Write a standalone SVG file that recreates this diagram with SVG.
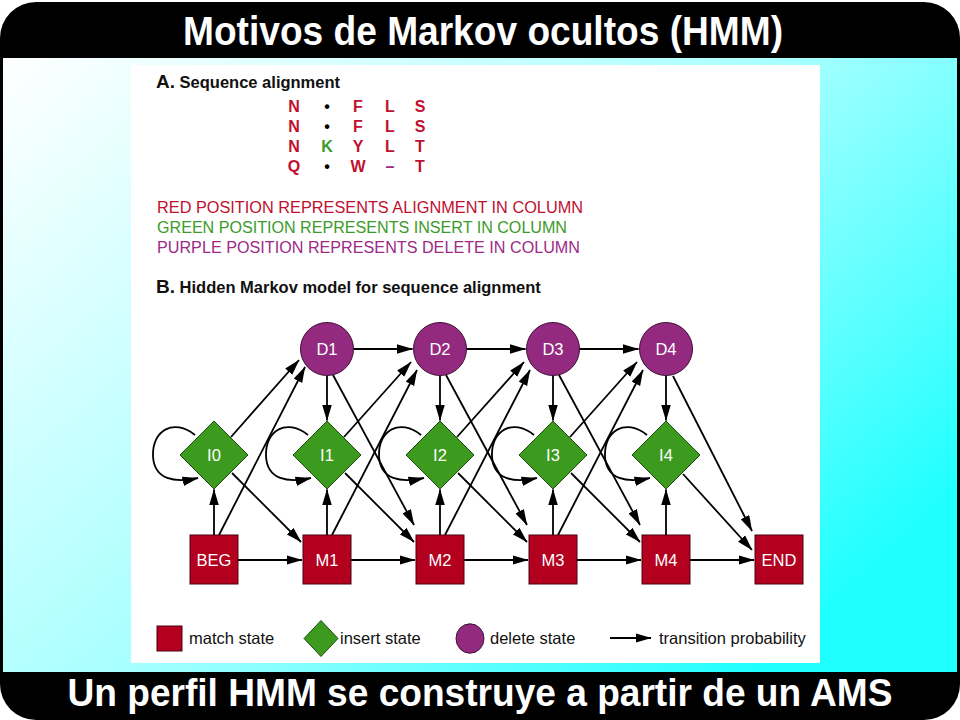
<svg xmlns="http://www.w3.org/2000/svg" width="960" height="720" viewBox="0 0 960 720">
<defs>
<linearGradient id="bg" x1="0" y1="0" x2="1" y2="0.7">
<stop offset="0" stop-color="#ffffff"/>
<stop offset="0.55" stop-color="#a8ffff"/>
<stop offset="1" stop-color="#20ffff"/>
</linearGradient>
<marker id="ah" markerWidth="16" markerHeight="10" refX="15.5" refY="4.75" orient="auto" markerUnits="userSpaceOnUse">
<path d="M0,0 L16,4.75 L0,9.5 z" fill="#000"/>
</marker>
<style>
.t{font-family:"Liberation Sans",Arial,sans-serif}
.hdr{font-family:"Liberation Sans",Arial,sans-serif;font-weight:bold;fill:#fff}
.e{stroke:#000;stroke-width:1.8;fill:none;marker-end:url(#ah)}
.m{fill:#b3001f;stroke:#4a0010;stroke-width:1}
.i{fill:#3c9a1e;stroke:#1f4d10;stroke-width:1}
.d{fill:#932a80;stroke:#3f1036;stroke-width:1}
.lbl{font-family:"Liberation Sans",Arial,sans-serif;font-size:16.5px;fill:#fff;text-anchor:middle}
.al{font-family:"Liberation Sans",Arial,sans-serif;font-size:16px;font-weight:bold;text-anchor:middle}
.red{fill:#c0102f}
.grn{fill:#3c9b2a}
.pur{fill:#9c2a86}
.leg{font-family:"Liberation Sans",Arial,sans-serif;font-size:16.5px;fill:#111}
</style>
</defs>
<rect x="0" y="0" width="960" height="720" fill="#fff"/>
<rect x="0" y="2" width="960" height="718" rx="36" ry="36" fill="#000"/>
<rect x="3" y="58" width="954" height="614" fill="url(#bg)"/>
<text class="hdr" x="483" y="45" font-size="41" text-anchor="middle" textLength="600" lengthAdjust="spacingAndGlyphs">Motivos de Markov ocultos (HMM)</text>
<text class="hdr" x="480" y="706" font-size="39" text-anchor="middle" textLength="825" lengthAdjust="spacingAndGlyphs">Un perfil HMM se construye a partir de un AMS</text>

<rect x="131" y="65" width="689" height="598" fill="#fff"/>

<g id="partA">
<text class="t" x="156" y="88" font-size="16.5" font-weight="bold" fill="#111"><tspan font-size="19">A.</tspan> Sequence alignment</text>
<g class="al">
<text x="294" y="112" class="red">N</text><text x="327" y="112" fill="#000">•</text><text x="358" y="112" class="red">F</text><text x="390" y="112" class="red">L</text><text x="420" y="112" class="red">S</text>
<text x="294" y="132" class="red">N</text><text x="327" y="132" fill="#000">•</text><text x="358" y="132" class="red">F</text><text x="390" y="132" class="red">L</text><text x="420" y="132" class="red">S</text>
<text x="294" y="152" class="red">N</text><text x="327" y="152" class="grn">K</text><text x="358" y="152" class="red">Y</text><text x="390" y="152" class="red">L</text><text x="420" y="152" class="red">T</text>
<text x="294" y="172" class="red">Q</text><text x="327" y="172" fill="#000">•</text><text x="358" y="172" class="red">W</text><text x="390" y="172" class="pur">–</text><text x="420" y="172" class="red">T</text>
</g>
<text class="t red" x="157" y="213" font-size="16" textLength="426" lengthAdjust="spacingAndGlyphs">RED POSITION REPRESENTS ALIGNMENT IN COLUMN</text>
<text class="t grn" x="157" y="233" font-size="16" textLength="410" lengthAdjust="spacingAndGlyphs">GREEN POSITION REPRESENTS INSERT IN COLUMN</text>
<text class="t pur" x="157" y="253" font-size="16" textLength="423" lengthAdjust="spacingAndGlyphs">PURPLE POSITION REPRESENTS DELETE IN COLUMN</text>
<text class="t" x="156" y="293" font-size="16.5" font-weight="bold" fill="#111"><tspan font-size="19">B.</tspan> Hidden Markov model for sequence alignment</text>
</g>

<g id="connectors">
<!-- column 0 (BEG, I0) -->
<path class="e" d="M214,535 L214,489.5"/>
<path class="e" d="M238,560 L302,560"/>
<path class="e" d="M219,535 L305,367"/>
<path class="e" d="M231,437 L299,360"/>
<path class="e" d="M232,473 L301,542"/>
<path class="e" d="M195,435 C174,418 152,430 153,456 C154,480 175,483 198,478"/>
<!-- column 1 -->
<path class="e" d="M327,535 L327,489.5"/>
<path class="e" d="M327,376 L327,420.5"/>
<path class="e" d="M353.5,349 L412.5,349"/>
<path class="e" d="M351,560 L415,560"/>
<path class="e" d="M333,375 L414,525"/>
<path class="e" d="M345,473 L414,542"/>
<path class="e" d="M332,535 L417,370"/>
<path class="e" d="M344,437 L411,362"/>
<path class="e" d="M308,435 C287,418 265,430 266,456 C267,480 288,483 311,478"/>
<!-- column 2 -->
<path class="e" d="M440,535 L440,489.5"/>
<path class="e" d="M440,376 L440,420.5"/>
<path class="e" d="M466.5,349 L525.5,349"/>
<path class="e" d="M464,560 L528,560"/>
<path class="e" d="M446,375 L527,525"/>
<path class="e" d="M458,473 L527,542"/>
<path class="e" d="M445,535 L530,370"/>
<path class="e" d="M457,437 L524,362"/>
<path class="e" d="M421,435 C400,418 378,430 379,456 C380,480 401,483 424,478"/>
<!-- column 3 -->
<path class="e" d="M553,535 L553,489.5"/>
<path class="e" d="M553,376 L553,420.5"/>
<path class="e" d="M579.5,349 L638.5,349"/>
<path class="e" d="M577,560 L641,560"/>
<path class="e" d="M559,375 L640,525"/>
<path class="e" d="M571,473 L640,542"/>
<path class="e" d="M558,535 L643,370"/>
<path class="e" d="M570,437 L637,362"/>
<path class="e" d="M534,435 C513,418 491,430 492,456 C493,480 514,483 537,478"/>
<!-- column 4 -->
<path class="e" d="M666,535 L666,489.5"/>
<path class="e" d="M666,376 L666,420.5"/>
<path class="e" d="M690,560 L754,560"/>
<path class="e" d="M673,376 L752,531"/>
<path class="e" d="M683,474 L752,550"/>
<path class="e" d="M647,435 C626,418 604,430 605,456 C606,480 627,483 650,478"/>
</g>

<g id="D1"><circle class="d" cx="327" cy="349" r="26.5"/><text class="lbl" x="327" y="355">D1</text></g>
<g id="D2"><circle class="d" cx="440" cy="349" r="26.5"/><text class="lbl" x="440" y="355">D2</text></g>
<g id="D3"><circle class="d" cx="553" cy="349" r="26.5"/><text class="lbl" x="553" y="355">D3</text></g>
<g id="D4"><circle class="d" cx="666" cy="349" r="26.5"/><text class="lbl" x="666" y="355">D4</text></g>

<g id="I0"><path class="i" d="M214,421 L248,455 L214,489 L180,455 Z"/><text class="lbl" x="214" y="461">I0</text></g>
<g id="I1"><path class="i" d="M327,421 L361,455 L327,489 L293,455 Z"/><text class="lbl" x="327" y="461">I1</text></g>
<g id="I2"><path class="i" d="M440,421 L474,455 L440,489 L406,455 Z"/><text class="lbl" x="440" y="461">I2</text></g>
<g id="I3"><path class="i" d="M553,421 L587,455 L553,489 L519,455 Z"/><text class="lbl" x="553" y="461">I3</text></g>
<g id="I4"><path class="i" d="M666,421 L700,455 L666,489 L632,455 Z"/><text class="lbl" x="666" y="461">I4</text></g>

<g id="BEG"><rect class="m" x="190" y="535" width="48" height="49"/><text class="lbl" x="214" y="565.5">BEG</text></g>
<g id="M1"><rect class="m" x="303" y="535" width="48" height="49"/><text class="lbl" x="327" y="565.5">M1</text></g>
<g id="M2"><rect class="m" x="416" y="535" width="48" height="49"/><text class="lbl" x="440" y="565.5">M2</text></g>
<g id="M3"><rect class="m" x="529" y="535" width="48" height="49"/><text class="lbl" x="553" y="565.5">M3</text></g>
<g id="M4"><rect class="m" x="642" y="535" width="48" height="49"/><text class="lbl" x="666" y="565.5">M4</text></g>
<g id="END"><rect class="m" x="755" y="535" width="48" height="49"/><text class="lbl" x="779" y="565.5">END</text></g>

<g id="legend">
<rect class="m" x="157" y="626" width="25" height="25"/>
<text class="leg" x="189" y="644">match state</text>
<path class="i" d="M321,620.5 L338,638.5 L321,656.5 L304,638.5 Z"/>
<text class="leg" x="340" y="644">insert state</text>
<ellipse class="d" cx="470" cy="638.5" rx="14" ry="14.7"/>
<text class="leg" x="490" y="644">delete state</text>
<path class="e" d="M610,638 L651,638"/>
<text class="leg" x="659" y="644">transition probability</text>
</g>
</svg>
